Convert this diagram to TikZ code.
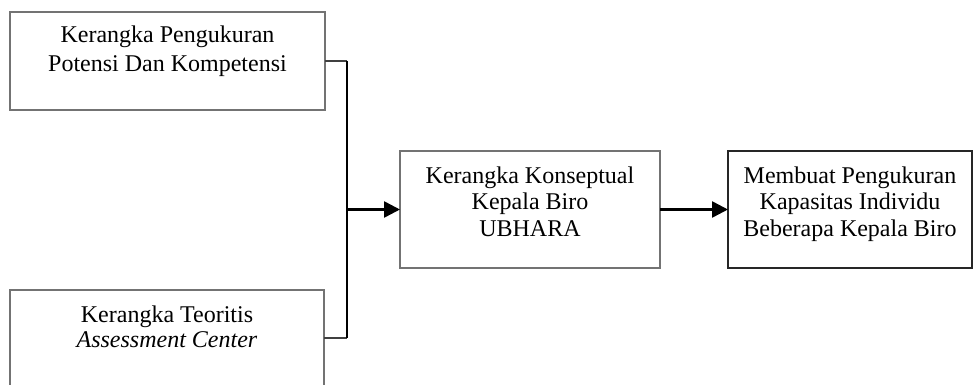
\documentclass[tikz,border=0pt]{standalone}
\usepackage{fontspec}
\setmainfont{Liberation Serif}
\usetikzlibrary{arrows.meta}
\begin{document}
\begin{tikzpicture}[x=0.5pt,y=-0.5pt,
  box/.style={draw=black!55,line width=0.55pt,inner sep=0pt,outer sep=0pt},
  darkbox/.style={draw=black!85,line width=0.6pt,inner sep=0pt,outer sep=0pt},
  txt/.style={align=center,anchor=base,inner sep=0pt,font=\fontsize{12}{13.5}\selectfont},
  conn/.style={line width=1.3pt,-{Triangle[length=8pt,width=8pt]}},
  stub/.style={line width=0.7pt,draw=black!75}]
\useasboundingbox (0,0) rectangle (976,385);
% boxes
\node[box,minimum width=157.5pt,minimum height=49pt] (b1) at (167.5,61) {};
\node[box,minimum width=157pt,minimum height=48pt] (b2) at (167,338) {};
\node[box,minimum width=130pt,minimum height=58.5pt] (b3) at (530,209.5) {};
\node[darkbox,minimum width=122pt,minimum height=58.5pt] (b4) at (850,209.5) {};
% texts (anchored at the baseline of the last line)
\node[txt,font=\fontsize{12}{14.5}\selectfont] (t1) at (167.5,72) {Kerangka Pengukuran\\Potensi Dan Kompetensi};
\node[txt,font=\fontsize{12}{12.5}\selectfont] (t2) at (167,347) {Kerangka Teoritis\\\textit{Assessment Center}};
\node[txt] (t3) at (530,237) {Kerangka Konseptual\\Kepala Biro\\UBHARA};
\node[txt] (t4) at (850,237) {Membuat Pengukuran\\Kapasitas Individu\\Beberapa Kepala Biro};
% connectors
\coordinate (j) at (347,209.5);
\draw[stub] (b1.east) -- (b1.east -| j);
\draw[stub] (b2.east) -- (b2.east -| j);
\draw[line width=1pt] (b1.east -| j) -- (b2.east -| j);
\draw[conn] (j) -- (b3.west);
\draw[conn] (b3.east) -- (b4.west);
\end{tikzpicture}
\end{document}
